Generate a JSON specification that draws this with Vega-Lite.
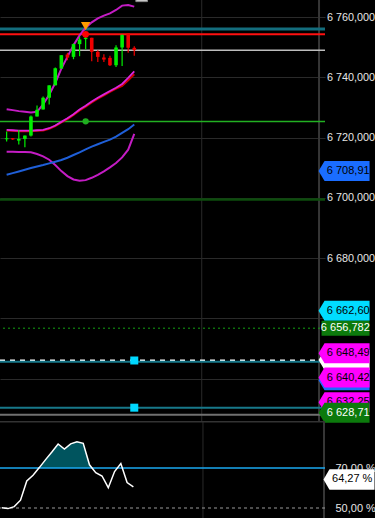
{
"$schema": "https://vega.github.io/schema/vega-lite/v6.json",
"background": "#000000",
"padding": 0,
"spacing": 0,
"bounds": "flush",
"config": {"view": {"stroke": null}, "axis": {"domain": false, "ticks": false, "labelColor": "#e6e6e6", "labelFont": "Liberation Sans", "labelFontSize": 11, "labelOverlap": false, "labelFlush": false}},
"datasets": {
"c": [
{"i":0,"o":6719.45,"h":6722.0,"l":6718.67,"c":6719.75,"d":"up","ub":6729.44,"ma":6722.56,"mr":6722.36,"lb":6715.33,"bl":6707.67,"osc":50.1},
{"i":1,"o":6719.8,"h":6719.9,"l":6719.2,"c":6719.4,"d":"down","ub":6729.11,"ma":6722.44,"mr":6722.24,"lb":6715.33,"bl":6708.22,"osc":49.7},
{"i":2,"o":6719.0,"h":6722.56,"l":6717.67,"c":6719.56,"d":"up","ub":6728.78,"ma":6722.33,"mr":6722.13,"lb":6715.22,"bl":6708.78,"osc":50.7},
{"i":3,"o":6719.56,"h":6720.67,"l":6716.78,"c":6720.67,"d":"up","ub":6728.56,"ma":6722.33,"mr":6722.13,"lb":6715.22,"bl":6709.33,"osc":53.9},
{"i":4,"o":6720.67,"h":6727.33,"l":6720.33,"c":6727.0,"d":"up","ub":6728.33,"ma":6722.33,"mr":6722.13,"lb":6715.11,"bl":6709.89,"osc":63.5},
{"i":5,"o":6727.0,"h":6730.67,"l":6727.0,"c":6729.22,"d":"up","ub":6728.56,"ma":6722.44,"mr":6722.24,"lb":6714.56,"bl":6710.44,"osc":66.4},
{"i":6,"o":6729.33,"h":6733.67,"l":6729.33,"c":6733.22,"d":"up","ub":6731.0,"ma":6722.56,"mr":6722.36,"lb":6713.78,"bl":6710.89,"osc":70.2},
{"i":7,"o":6733.22,"h":6737.33,"l":6731.0,"c":6737.33,"d":"up","ub":6734.22,"ma":6723.11,"mr":6722.91,"lb":6712.67,"bl":6711.44,"osc":74.2},
{"i":8,"o":6737.33,"h":6743.22,"l":6737.33,"c":6743.0,"d":"up","ub":6738.11,"ma":6724.0,"mr":6723.8,"lb":6710.89,"bl":6712.0,"osc":78.0},
{"i":9,"o":6742.89,"h":6747.33,"l":6742.89,"c":6747.33,"d":"up","ub":6742.89,"ma":6725.22,"mr":6725.02,"lb":6708.89,"bl":6712.56,"osc":82.0},
{"i":10,"o":6747.56,"h":6748.11,"l":6745.67,"c":6746.56,"d":"down","ub":6746.78,"ma":6726.44,"mr":6726.14,"lb":6707.22,"bl":6713.33,"osc":79.5},
{"i":11,"o":6746.78,"h":6751.22,"l":6746.0,"c":6751.0,"d":"up","ub":6750.67,"ma":6727.78,"mr":6727.48,"lb":6706.11,"bl":6714.22,"osc":82.1},
{"i":12,"o":6751.0,"h":6753.44,"l":6747.0,"c":6752.56,"d":"up","ub":6753.89,"ma":6729.33,"mr":6729.03,"lb":6705.67,"bl":6715.11,"osc":83.15},
{"i":13,"o":6752.67,"h":6754.22,"l":6749.33,"c":6753.11,"d":"up","ub":6756.44,"ma":6730.56,"mr":6730.26,"lb":6705.89,"bl":6716.11,"osc":82.3},
{"i":14,"o":6753.11,"h":6753.11,"l":6745.33,"c":6748.44,"d":"down","ub":6758.22,"ma":6732.0,"mr":6731.7,"lb":6706.67,"bl":6717.0,"osc":71.6},
{"i":15,"o":6748.44,"h":6749.0,"l":6745.11,"c":6746.78,"d":"down","ub":6759.56,"ma":6733.22,"mr":6732.92,"lb":6707.67,"bl":6717.78,"osc":67.7},
{"i":16,"o":6746.56,"h":6747.67,"l":6745.11,"c":6745.89,"d":"down","ub":6760.44,"ma":6734.33,"mr":6734.03,"lb":6708.78,"bl":6718.56,"osc":66.0},
{"i":17,"o":6746.44,"h":6747.11,"l":6743.78,"c":6744.0,"d":"down","ub":6761.22,"ma":6735.44,"mr":6735.14,"lb":6710.11,"bl":6719.33,"osc":60.15},
{"i":18,"o":6744.0,"h":6750.67,"l":6743.44,"c":6749.89,"d":"up","ub":6762.33,"ma":6736.56,"mr":6736.26,"lb":6711.56,"bl":6720.33,"osc":68.2},
{"i":19,"o":6749.89,"h":6754.22,"l":6743.78,"c":6754.0,"d":"up","ub":6763.78,"ma":6737.78,"mr":6737.18,"lb":6713.44,"bl":6721.56,"osc":72.2},
{"i":20,"o":6754.56,"h":6754.56,"l":6748.11,"c":6749.78,"d":"down","ub":6764.0,"ma":6739.78,"mr":6738.98,"lb":6716.0,"bl":6722.78,"osc":62.7},
{"i":21,"o":6749.78,"h":6750.33,"l":6747.11,"c":6749.0,"d":"down","ub":6763.44,"ma":6742.0,"mr":6741.0,"lb":6721.22,"bl":6724.33,"osc":60.6}
],
"fill": [{"i":5.95,"v":70},{"i":6,"v":70.2},{"i":7,"v":74.2},{"i":8,"v":78.0},{"i":9,"v":82.0},{"i":10,"v":79.5},{"i":11,"v":82.1},{"i":12,"v":83.15},{"i":13,"v":82.3},{"i":14,"v":71.6},{"i":14.41,"v":70}],
"vg": [{"i":32.1}],
"ax": [{"i":51.4}],
"lv": [
{"n":"teal_top","p":6756.02},{"n":"red","p":6754.3},{"n":"gray_hi","p":6748.99},{"n":"green","p":6725.34},{"n":"dkgreen","p":6699.47},{"n":"gdot","p":6656.78},{"n":"wdash","p":6646.17},{"n":"teal2","p":6645.67},{"n":"teal3","p":6630.38},{"n":"gray_lo","p":6628.06}
],
"mk": [{"n":"tri","i":13,"p":6757.0},{"n":"rdot","i":13,"p":6754.26},{"n":"gdot","i":13,"p":6725.4},{"n":"sq","i":21,"p":6646.07},{"n":"sq","i":21,"p":6630.42}],
"gb": [{"i1":21.26,"i2":23.17,"p1":6765.1,"p2":6767}],
"tg": [
{"n":"blue1","p":6708.91,"t":"6 708,910"},
{"n":"cyan","p":6662.6,"t":"6 662,600"},
{"n":"blue2","p":6639.5,"t":""},
{"n":"white","p":6646.2,"t":""},
{"n":"mag1","p":6648.49,"t":"6 648,490"},
{"n":"mag2","p":6640.42,"t":"6 640,420"},
{"n":"mag3","p":6632.25,"t":"6 632,250"},
{"n":"grn2","p":6628.71,"t":"6 628,710"},
{"n":"grn1","p":6656.782,"t":"6 656,782"}
],
"ol": [{"n":"top","v":93.25},{"n":"l70","v":70},{"n":"l50","v":50}],
"ot": [{"v":64.27,"t":"64,27 %"}]
},
"vconcat": [
{
"width": 325, "height": 421,
"resolve": {"scale": {"color": "independent", "fill": "independent"}},
"layer": [
{"data":{"name":"vg"},"mark":{"type":"rule","color":"#2a2a2a","strokeWidth":1,"clip":true},"encoding":{"x":{"field":"i","type":"quantitative","scale":{"domain":[-0.27,51.56],"nice":false,"zero":false},"axis":null}}},
{"data":{"name":"ax"},"mark":{"type":"rule","color":"#363636","strokeWidth":2,"clip":true},"encoding":{"x":{"field":"i","type":"quantitative","scale":{"domain":[-0.27,51.56],"nice":false,"zero":false},"axis":null}}},
{"data":{"name":"lv"},"transform":[{"filter":"datum.n=='teal_top'"}],"mark":{"type":"rule","color":"#136d7d","strokeWidth":3,"clip":true},"encoding":{"y":{"field":"p","type":"quantitative","scale":{"domain":[6626.0,6765.64],"nice":false,"zero":false},"axis":{"orient":"right","title":null,"values":[6640,6660,6680,6700,6720,6740,6760],"grid":true,"gridColor":"#2a2a2a","gridWidth":1,"labelPadding":1.5,"labelFontSize":10.8,"labelLimit":60,"labelExpr":"datum.value < 6670 ? '' : replace(replace(format(datum.value, ',.3f'), ',', ' '), '.', ',')"}}}},
{"data":{"name":"lv"},"transform":[{"filter":"datum.n=='red'"}],"mark":{"type":"rule","color":"#ff1010","strokeWidth":2,"clip":true},"encoding":{"y":{"field":"p","type":"quantitative"}}},
{"data":{"name":"lv"},"transform":[{"filter":"datum.n=='gray_hi'"}],"mark":{"type":"rule","color":"#bdbdbd","strokeWidth":1.5,"clip":true},"encoding":{"y":{"field":"p","type":"quantitative"}}},
{"data":{"name":"lv"},"transform":[{"filter":"datum.n=='green'"}],"mark":{"type":"rule","color":"#22b022","strokeWidth":1.5,"clip":true},"encoding":{"y":{"field":"p","type":"quantitative"}}},
{"data":{"name":"lv"},"transform":[{"filter":"datum.n=='dkgreen'"}],"mark":{"type":"rule","color":"#0d4d0d","strokeWidth":2.5,"clip":true},"encoding":{"y":{"field":"p","type":"quantitative"}}},
{"data":{"name":"lv"},"transform":[{"filter":"datum.n=='gdot'"}],"mark":{"type":"rule","color":"#14a014","strokeWidth":1,"strokeDash":[2,3],"clip":true},"encoding":{"y":{"field":"p","type":"quantitative"}}},
{"data":{"name":"lv"},"transform":[{"filter":"datum.n=='wdash'"}],"mark":{"type":"rule","color":"#ffffff","strokeWidth":1.5,"strokeDash":[5,5],"clip":true},"encoding":{"y":{"field":"p","type":"quantitative"}}},
{"data":{"name":"lv"},"transform":[{"filter":"datum.n=='teal2' || datum.n=='teal3'"}],"mark":{"type":"rule","color":"#17788a","strokeWidth":2,"clip":true},"encoding":{"y":{"field":"p","type":"quantitative"}}},
{"data":{"name":"lv"},"transform":[{"filter":"datum.n=='gray_lo'"}],"mark":{"type":"rule","color":"#707070","strokeWidth":2,"clip":true},"encoding":{"y":{"field":"p","type":"quantitative"}}},
{"data":{"name":"c"},"mark":{"type":"line","color":"#c41cc4","strokeWidth":2,"clip":true},"encoding":{"x":{"field":"i","type":"quantitative","axis":null},"y":{"field":"ub","type":"quantitative"}}},
{"data":{"name":"c"},"mark":{"type":"line","color":"#c41cc4","strokeWidth":2,"clip":true},"encoding":{"x":{"field":"i","type":"quantitative","axis":null},"y":{"field":"lb","type":"quantitative"}}},
{"data":{"name":"c"},"mark":{"type":"line","color":"#1f5fd8","strokeWidth":2,"clip":true},"encoding":{"x":{"field":"i","type":"quantitative","axis":null},"y":{"field":"bl","type":"quantitative"}}},
{"data":{"name":"c"},"mark":{"type":"line","color":"#cc0000","strokeWidth":2,"clip":true},"encoding":{"x":{"field":"i","type":"quantitative","axis":null},"y":{"field":"mr","type":"quantitative"}}},
{"data":{"name":"c"},"mark":{"type":"line","color":"#dd22dd","strokeWidth":1.8,"clip":true},"encoding":{"x":{"field":"i","type":"quantitative","axis":null},"y":{"field":"ma","type":"quantitative"}}},
{"data":{"name":"c"},"mark":{"type":"rule","strokeWidth":1.2,"clip":true},"encoding":{"x":{"field":"i","type":"quantitative","axis":null},"y":{"field":"l","type":"quantitative"},"y2":{"field":"h"},"color":{"field":"d","type":"nominal","scale":{"domain":["up","down"],"range":["#00f000","#f00000"]},"legend":null}}},
{"data":{"name":"c"},"mark":{"type":"bar","width":3.6,"clip":true},"encoding":{"x":{"field":"i","type":"quantitative","axis":null},"y":{"field":"o","type":"quantitative"},"y2":{"field":"c"},"color":{"field":"d","type":"nominal","scale":{"domain":["up","down"],"range":["#00f000","#f00000"]},"legend":null}}},
{"data":{"name":"mk"},"transform":[{"filter":"datum.n=='tri'"}],"mark":{"type":"point","shape":"triangle-down","filled":true,"size":90,"color":"#ff9a00","opacity":1,"clip":true},"encoding":{"x":{"field":"i","type":"quantitative","axis":null},"y":{"field":"p","type":"quantitative"}}},
{"data":{"name":"mk"},"transform":[{"filter":"datum.n=='rdot'"}],"mark":{"type":"circle","size":45,"color":"#ff0000","opacity":1,"clip":true},"encoding":{"x":{"field":"i","type":"quantitative","axis":null},"y":{"field":"p","type":"quantitative"}}},
{"data":{"name":"mk"},"transform":[{"filter":"datum.n=='gdot'"}],"mark":{"type":"circle","size":40,"color":"#1fae1f","opacity":1,"clip":true},"encoding":{"x":{"field":"i","type":"quantitative","axis":null},"y":{"field":"p","type":"quantitative"}}},
{"data":{"name":"mk"},"transform":[{"filter":"datum.n=='sq'"}],"mark":{"type":"square","size":64,"color":"#00d8ff","opacity":1,"clip":true},"encoding":{"x":{"field":"i","type":"quantitative","axis":null},"y":{"field":"p","type":"quantitative"}}},
{"data":{"name":"gb"},"mark":{"type":"rect","color":"#c8c8c8","stroke":"#8a8a8a","strokeWidth":1,"clip":true},"encoding":{"x":{"field":"i1","type":"quantitative","axis":null},"x2":{"field":"i2"},"y":{"field":"p1","type":"quantitative"},"y2":{"field":"p2"}}},
{"data":{"name":"tg"},"transform":[{"filter":"datum.n!='grn1' && datum.n!='grn2'"}],"mark":{"type":"point","filled":true,"opacity":1,"size":3600,"strokeWidth":0,"shape":"M0,0L0.2,-0.333L1.7,-0.333L1.7,0.333L0.2,0.333Z"},"encoding":{"x":{"datum":51.32,"type":"quantitative","axis":null},"y":{"field":"p","type":"quantitative"},"fill":{"field":"n","type":"nominal","scale":{"domain":["blue1","cyan","blue2","white","mag1","mag2","mag3"],"range":["#1a6dff","#00dcff","#1a6dff","#ffffff","#ff00ff","#ff00ff","#ff00ff"]},"legend":null}}},
{"data":{"name":"tg"},"transform":[{"filter":"datum.n!='grn1' && datum.n!='grn2'"}],"mark":{"type":"text","align":"left","baseline":"middle","font":"Liberation Sans","fontSize":11,"color":"#000000","limit":43.5,"ellipsis":"\u200b"},"encoding":{"x":{"datum":52.68,"type":"quantitative","axis":null},"y":{"field":"p","type":"quantitative"},"text":{"field":"t"}}},
{"data":{"name":"tg"},"transform":[{"filter":"datum.n=='grn2'"}],"mark":{"type":"point","filled":true,"opacity":1,"size":3600,"strokeWidth":0,"color":"#0c7a0c","shape":"M0,0L0.2,-0.333L1.7,-0.333L1.7,0.333L0.2,0.333Z"},"encoding":{"x":{"datum":51.32,"type":"quantitative","axis":null},"y":{"field":"p","type":"quantitative"}}},
{"data":{"name":"tg"},"transform":[{"filter":"datum.n=='grn2'"}],"mark":{"type":"text","align":"left","baseline":"middle","font":"Liberation Sans","fontSize":11,"color":"#ffffff","limit":43.5,"ellipsis":"\u200b"},"encoding":{"x":{"datum":52.68,"type":"quantitative","axis":null},"y":{"field":"p","type":"quantitative"},"text":{"field":"t"}}},
{"data":{"name":"tg"},"transform":[{"filter":"datum.n=='grn1'"}],"mark":{"type":"point","filled":true,"opacity":1,"size":3600,"strokeWidth":0,"color":"#0c7a0c","shape":"M0.1,-0.25L1.7,-0.25L1.7,0.25L0.1,0.25Z"},"encoding":{"x":{"datum":51.32,"type":"quantitative","axis":null},"y":{"field":"p","type":"quantitative"}}},
{"data":{"name":"tg"},"transform":[{"filter":"datum.n=='grn1'"}],"mark":{"type":"text","align":"left","baseline":"middle","font":"Liberation Sans","fontSize":11,"color":"#ffffff","limit":49,"ellipsis":"\u200b"},"encoding":{"x":{"datum":51.7,"type":"quantitative","axis":null},"y":{"field":"p","type":"quantitative"},"text":{"field":"t"}}}
]
},
{
"width": 325, "height": 97,
"layer": [
{"data":{"name":"vg"},"mark":{"type":"rule","color":"#2a2a2a","strokeWidth":1,"clip":true},"encoding":{"x":{"field":"i","type":"quantitative","scale":{"domain":[-0.27,51.56],"nice":false,"zero":false},"axis":null}}},
{"data":{"name":"ax"},"mark":{"type":"rule","color":"#363636","strokeWidth":2,"clip":true},"encoding":{"x":{"field":"i","type":"quantitative","scale":{"domain":[-0.27,51.56],"nice":false,"zero":false},"axis":null}}},
{"data":{"name":"ol"},"transform":[{"filter":"datum.n=='top'"}],"mark":{"type":"rule","color":"#333333","strokeWidth":2,"clip":true},"encoding":{"y":{"field":"v","type":"quantitative","scale":{"domain":[45,93.5],"nice":false,"zero":false},"axis":{"orient":"right","title":null,"values":[50,70],"grid":false,"labelPadding":10,"labelLimit":44,"labelExpr":"replace(format(datum.value, '.2f'), '.', ',') + ' %'"}}}},
{"data":{"name":"fill"},"mark":{"type":"area","color":"#00545e","opacity":1,"clip":true},"encoding":{"x":{"field":"i","type":"quantitative","axis":null},"y":{"field":"v","type":"quantitative"},"y2":{"datum":70}}},
{"data":{"name":"ol"},"transform":[{"filter":"datum.n=='l70'"}],"mark":{"type":"rule","color":"#1aa8f0","strokeWidth":1.5,"clip":true},"encoding":{"y":{"field":"v","type":"quantitative"}}},
{"data":{"name":"ol"},"transform":[{"filter":"datum.n=='l50'"}],"mark":{"type":"rule","color":"#9a9a9a","strokeWidth":1,"strokeDash":[3,3],"clip":true},"encoding":{"y":{"field":"v","type":"quantitative"}}},
{"data":{"name":"c"},"mark":{"type":"line","color":"#ffffff","strokeWidth":1.5,"clip":true},"encoding":{"x":{"field":"i","type":"quantitative","axis":null},"y":{"field":"osc","type":"quantitative"}}},
{"data":{"name":"ot"},"mark":{"type":"point","filled":true,"opacity":1,"size":3600,"strokeWidth":0,"color":"#ffffff","shape":"M0,0L0.2,-0.343L1.7,-0.343L1.7,0.343L0.2,0.343Z"},"encoding":{"x":{"datum":51.32,"type":"quantitative","axis":null},"y":{"field":"v","type":"quantitative"}}},
{"data":{"name":"ot"},"mark":{"type":"text","align":"left","baseline":"middle","font":"Liberation Sans","fontSize":11,"color":"#000000","limit":43,"ellipsis":"\u200b"},"encoding":{"x":{"datum":52.68,"type":"quantitative","axis":null},"y":{"field":"v","type":"quantitative"},"text":{"field":"t"}}}
]
}
]
}
